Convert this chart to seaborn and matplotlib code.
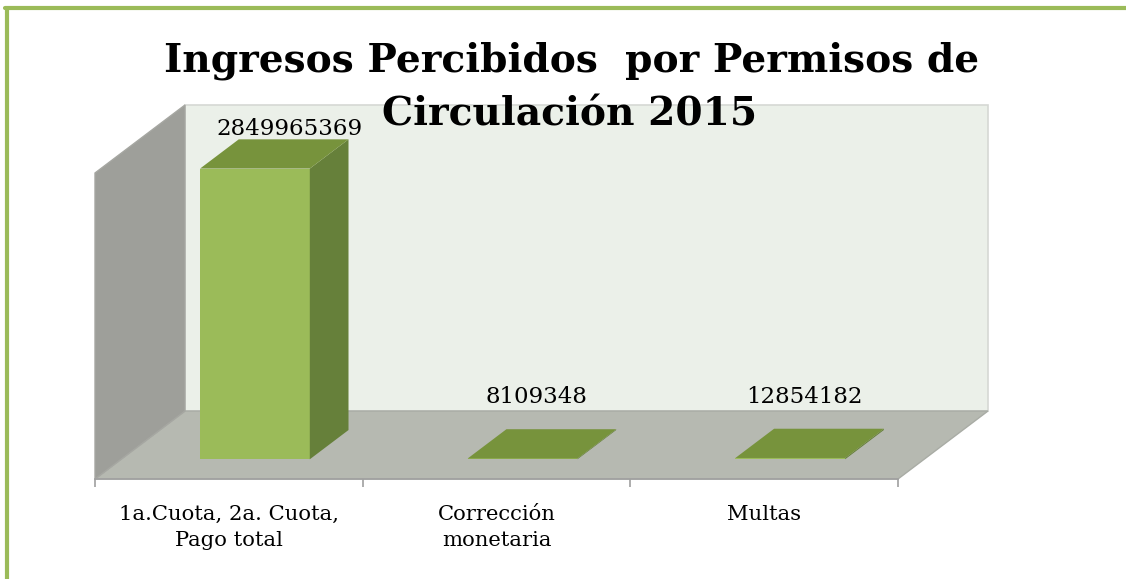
import matplotlib
matplotlib.use("Agg")
import matplotlib.pyplot as plt
import matplotlib.transforms as mtransforms
from matplotlib.patches import Polygon
from matplotlib.lines import Line2D
from matplotlib.ticker import FixedLocator
import pandas as pd
import seaborn as sns

categories = ["1a.Cuota, 2a. Cuota, Pago total", "Corrección monetaria", "Multas"]
values = [2849965369, 8109348, 12854182]
tick_labels = ["1a.Cuota, 2a. Cuota,\nPago total", "Corrección\nmonetaria", "Multas"]
title_lines = ["Ingresos Percibidos  por Permisos de", "Circulación 2015"]

df = pd.DataFrame({"cat": categories, "val": values})

sns.set_style("white")
plt.rcParams["font.family"] = ["DejaVu Serif"]
plt.rcParams["text.color"] = "black"
plt.rcParams["xtick.color"] = "black"

W, H = 1126, 579
fig = plt.figure(figsize=(W / 100, H / 100), dpi=100)

# front plane of the 3d box, in pixels
x0, x1, ytop, ybot = 95, 898, 173, 479
ax = fig.add_axes([x0 / W, 1 - ybot / H, (x1 - x0) / W, (ybot - ytop) / H])
ax.patch.set_visible(False)

DX, DY = 90, 68          # depth of the box in pixels
d0, d1 = 0.29, 0.72      # bar position in depth
green = "#9BBB59"

sns.barplot(data=df, x="cat", y="val", ax=ax, color=green, saturation=1,
            width=0.41, errorbar=None, edgecolor="none", zorder=3)
ax.set_xlim(-0.5, 2.5)
ax.set_ylim(0, 3.0e9)

aw, ah = ax.bbox.width, ax.bbox.height
ddx, ddy = DX / aw, DY / ah

def shifted(px, py, base):
    return base + mtransforms.ScaledTranslation(px / fig.dpi, py / fig.dpi, fig.dpi_scale_trans)

# walls and floor
floor = Polygon([(0, 0), (1, 0), (1 + ddx, ddy), (ddx, ddy)], closed=True,
                transform=ax.transAxes, facecolor="#B6B9B1", edgecolor="#A9ACA5",
                lw=1, clip_on=False, zorder=0)
left = Polygon([(0, 0), (ddx, ddy), (ddx, 1 + ddy), (0, 1)], closed=True,
               transform=ax.transAxes, facecolor="#9E9F9A", edgecolor="#A6A7A2",
               lw=1, clip_on=False, zorder=0)
back = Polygon([(ddx, ddy), (1 + ddx, ddy), (1 + ddx, 1 + ddy), (ddx, 1 + ddy)], closed=True,
               transform=ax.transAxes, facecolor="#EBF0E9", edgecolor="#D6D8D4",
               lw=1.2, clip_on=False, zorder=0)
for p in (back, floor, left):
    ax.add_patch(p)

# turn the flat bars into boxes
xr = (ax.get_xlim()[1] - ax.get_xlim()[0]) / aw
yr = (ax.get_ylim()[1] - ax.get_ylim()[0]) / ah
bdx, bdy = (d1 - d0) * DX * xr, (d1 - d0) * DY * yr
front_shift = shifted(d0 * DX, d0 * DY, ax.transData)
for bar in list(ax.patches):
    if bar in (back, floor, left):
        continue
    bx, bw, bh = bar.get_x(), bar.get_width(), bar.get_height()
    bar.set_transform(front_shift)
    bar.set_clip_on(False)
    top = Polygon([(bx, bh), (bx + bw, bh), (bx + bw + bdx, bh + bdy), (bx + bdx, bh + bdy)],
                  closed=True, transform=front_shift, facecolor="#77933C",
                  edgecolor="none", clip_on=False, zorder=3)
    side = Polygon([(bx + bw, 0), (bx + bw + bdx, bdy), (bx + bw + bdx, bh + bdy), (bx + bw, bh)],
                   closed=True, transform=front_shift, facecolor="#66803A",
                   edgecolor="none", clip_on=False, zorder=3)
    ax.add_patch(side)
    ax.add_patch(top)

# value labels
for i, v in enumerate(values):
    big = v > 0.5 * max(values)
    ax.annotate(str(v), xy=(i, v), xytext=(61 if big else 40, 48 if big else 70),
                textcoords="offset pixels", ha="center", va="bottom",
                fontsize=16.5, color="black", zorder=5, annotation_clip=False)

# axis styling
for s in ("left", "right", "top"):
    ax.spines[s].set_visible(False)
ax.spines["bottom"].set_color("#A0A0A0")
ax.spines["bottom"].set_linewidth(1.2)
ax.set_yticks([])
ax.set_xlabel("")
ax.set_ylabel("")
ax.set_xticks(range(len(tick_labels)))
ax.set_xticklabels(tick_labels, fontsize=15.2, multialignment="center", color="black")
for t in ax.get_xticklabels():
    t.set_linespacing(1.45)
ax.tick_params(axis="x", which="major", length=0, pad=19)
ax.xaxis.set_minor_locator(FixedLocator([-0.5, 0.5, 1.5, 2.5]))
ax.tick_params(axis="x", which="minor", length=6, width=1.2, color="#A0A0A0", bottom=True)

# title
fig.text(572 / W, 1 - 72 / H, title_lines[0], ha="center", va="baseline", color="black",
         fontsize=28.2, fontweight="bold", family=["DejaVu Serif"])
fig.text(570 / W, 1 - 126 / H, title_lines[1], ha="center", va="baseline", color="black",
         fontsize=28.2, fontweight="bold", family=["DejaVu Serif"])

# green frame
fig.add_artist(Line2D([5 / W, 1], [1 - 8 / H, 1 - 8 / H], transform=fig.transFigure,
                      color=green, lw=3))
fig.add_artist(Line2D([7 / W, 7 / W], [0, 1 - 8 / H], transform=fig.transFigure,
                      color=green, lw=3))

fig.savefig("out.png", dpi=100)
